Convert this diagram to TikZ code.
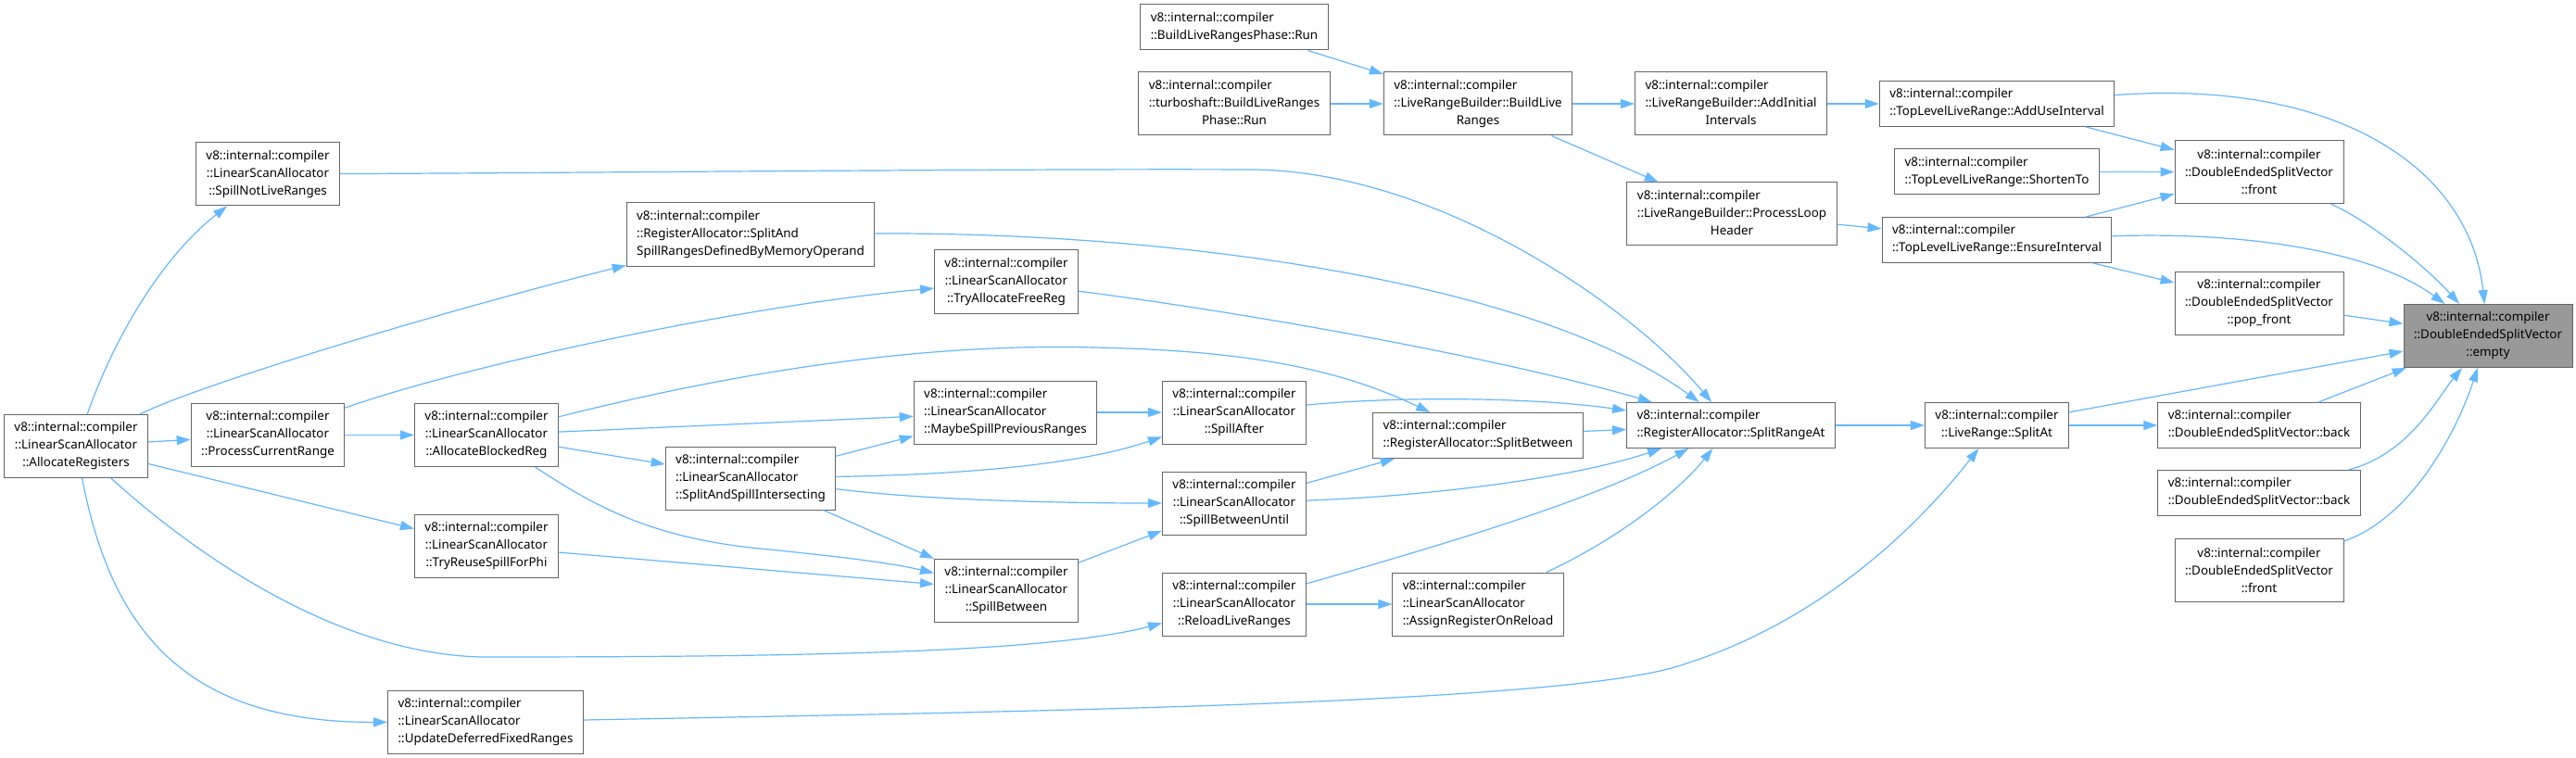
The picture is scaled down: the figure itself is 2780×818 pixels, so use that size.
\documentclass[tikz,border=0pt]{standalone}
\usepackage{fontspec}
\setmainfont{Noto Sans}
\usetikzlibrary{arrows.meta}
\definecolor{edgeblue}{HTML}{63B8FF}
\definecolor{nodegray}{HTML}{666666}
\definecolor{targetfill}{HTML}{999999}
\tikzset{
  nd/.style={draw=nodegray, line width=1pt, fill=white, inner xsep=11pt, inner ysep=3pt,
    font=\fontsize{13.4}{19}\selectfont, text=black},
  n3/.style={nd, minimum height=68pt},
  n2/.style={nd, minimum height=49pt},
  ed/.style={draw=edgeblue, line width=1.2pt, -{Triangle[length=15pt,width=10pt]}},
}
\newcommand{\mixlbl}[3]{\begin{tabular}{@{}l@{}}#1\\#2\\\multicolumn{1}{@{}c@{}}{#3}\end{tabular}}
\begin{document}
\begin{tikzpicture}[x=1pt,y=-1pt]
\useasboundingbox (0,0) rectangle (2780,818);
\fill[white] (0,0) rectangle (2780,818);

% nodes
\node[n3, align=center] (AR) at (82,481.5) {v8::internal::compiler\\::LinearScanAllocator\\::AllocateRegisters};
\node[n3, align=center] (SNLR) at (289,188) {v8::internal::compiler\\::LinearScanAllocator\\::SpillNotLiveRanges};
\node[n3, align=center] (PCR) at (289,469.5) {v8::internal::compiler\\::LinearScanAllocator\\::ProcessCurrentRange};
\node[n3, align=left] (UDFR) at (524,779) {v8::internal::compiler\\::LinearScanAllocator\\::UpdateDeferredFixedRanges};
\node[n3, align=center] (ABR) at (525,469.5) {v8::internal::compiler\\::LinearScanAllocator\\::AllocateBlockedReg};
\node[n3, align=center] (TRSP) at (525,589.5) {v8::internal::compiler\\::LinearScanAllocator\\::TryReuseSpillForPhi};
\node[n3, align=left] (SASR) at (810,253) {v8::internal::compiler\\::RegisterAllocator::SplitAnd\\SpillRangesDefinedByMemoryOperand};
\node[n3, align=left] (SASI) at (810,516) {v8::internal::compiler\\::LinearScanAllocator\\::SplitAndSpillIntersecting};
\node[n3, align=center] (TAFR) at (1086,304) {v8::internal::compiler\\::LinearScanAllocator\\::TryAllocateFreeReg};
\node[n3, align=left] (MSPR) at (1085,445) {v8::internal::compiler\\::LinearScanAllocator\\::MaybeSpillPreviousRanges};
\node[n3, align=center] (SB) at (1086,637) {v8::internal::compiler\\::LinearScanAllocator\\::SpillBetween};
\node[n3, align=center] (SA) at (1332,445) {v8::internal::compiler\\::LinearScanAllocator\\::SpillAfter};
\node[n3, align=center] (SBU) at (1332,543) {v8::internal::compiler\\::LinearScanAllocator\\::SpillBetweenUntil};
\node[n3, align=center] (RLR) at (1332,652) {v8::internal::compiler\\::LinearScanAllocator\\::ReloadLiveRanges};
\node[n2, align=left] (BLRP) at (1332,29.5) {v8::internal::compiler\\::BuildLiveRangesPhase::Run};
\node[n3] (TBLR) at (1332,112) {\mixlbl{v8::internal::compiler}{::turboshaft::BuildLiveRanges}{Phase::Run}};
\node[n2, align=left] (SBW) at (1595,470) {v8::internal::compiler\\::RegisterAllocator::SplitBetween};
\node[n3, align=left] (AROR) at (1595,652) {v8::internal::compiler\\::LinearScanAllocator\\::AssignRegisterOnReload};
\node[n3] (BLR) at (1595,112) {\mixlbl{v8::internal::compiler}{::LiveRangeBuilder::BuildLive}{Ranges}};
\node[n2, align=left] (SRA) at (1868,459) {v8::internal::compiler\\::RegisterAllocator::SplitRangeAt};
\node[n3] (AII) at (1868,112) {\mixlbl{v8::internal::compiler}{::LiveRangeBuilder::AddInitial}{Intervals}};
\node[n3] (PLH) at (1869,231) {\mixlbl{v8::internal::compiler}{::LiveRangeBuilder::ProcessLoop}{Header}};
\node[n2, align=left] (AUI) at (2155,112) {v8::internal::compiler\\::TopLevelLiveRange::AddUseInterval};
\node[n2, align=left] (ST) at (2155,185.5) {v8::internal::compiler\\::TopLevelLiveRange::ShortenTo};
\node[n2, align=left] (EI) at (2155,259) {v8::internal::compiler\\::TopLevelLiveRange::EnsureInterval};
\node[n2, align=center] (LSA) at (2155,459) {v8::internal::compiler\\::LiveRange::SplitAt};
\node[n3, align=center] (DF1) at (2438,185.5) {v8::internal::compiler\\::DoubleEndedSplitVector\\::front};
\node[n3, align=center] (PF) at (2438,327) {v8::internal::compiler\\::DoubleEndedSplitVector\\::pop\_front};
\node[n2, align=left] (DB1) at (2438,459) {v8::internal::compiler\\::DoubleEndedSplitVector::back};
\node[n2, align=left] (DB2) at (2438,532) {v8::internal::compiler\\::DoubleEndedSplitVector::back};
\node[n3, align=center] (DF2) at (2438,615) {v8::internal::compiler\\::DoubleEndedSplitVector\\::front};
\node[n3, align=center, fill=targetfill] (EMP) at (2685,362.5) {v8::internal::compiler\\::DoubleEndedSplitVector\\::empty};

% edges from AllocateRegisters
\draw[ed] (AR) .. controls (126,357) and (178,275) .. (SNLR);
\draw[ed] (AR) .. controls (215,415) and (480,335) .. (SASR);
\draw[ed] (AR) -- (PCR);
\draw[ed] (AR) -- (TRSP);
\draw[ed] (AR) .. controls (190,580) and (350,705) .. (520,709) .. controls (850,709) and (1130,705) .. (RLR);
\draw[ed] (AR) .. controls (120,680) and (200,780) .. (UDFR);

% ProcessCurrentRange
\draw[ed] (PCR) -- (ABR);
\draw[ed] (PCR) .. controls (500,395) and (800,330) .. (TAFR);

% SpillNotLiveRanges, SplitAndSpillRanges..., TryAllocateFreeReg
\draw[ed] (SNLR) .. controls (700,186) and (1100,182) .. (1350,183) .. controls (1550,184) and (1760,330) .. (SRA);
\draw[ed] (SASR) .. controls (1250,250) and (1650,300) .. (SRA);
\draw[ed] (TAFR) .. controls (1400,345) and (1650,395) .. (SRA);

% AllocateBlockedReg
\draw[ed] (ABR) .. controls (800,400) and (1000,370) .. (1180,375) .. controls (1350,378) and (1450,400) .. (SBW);
\draw[ed] (ABR) -- (MSPR);
\draw[ed] (ABR) -- (SASI);
\draw[ed] (ABR) .. controls (640,545) and (700,580) .. (820,592) .. controls (900,600) and (960,607) .. (SB);
\draw[ed] (TRSP) -- (SB);

% UpdateDeferredFixedRanges
\draw[ed] (UDFR) .. controls (1100,768) and (1650,760) .. (1800,722) .. controls (1950,680) and (2060,580) .. (LSA);

% SplitAndSpillIntersecting
\draw[ed] (SASI) -- (MSPR);
\draw[ed] (SASI) .. controls (1050,512) and (1170,500) .. (SA);
\draw[ed] (SASI) .. controls (1000,540) and (1150,543) .. (SBU);
\draw[ed] (SASI) -- (SB);
\draw[ed] (MSPR) -- (SA);
\draw[ed] (SB) -- (SBU);

% into SplitRangeAt
\draw[ed] (SA) .. controls (1500,428) and (1650,428) .. (SRA);
\draw[ed] (SBW) -- (SRA);
\draw[ed] (SBU) -- (SBW);
\draw[ed] (SBU) .. controls (1550,535) and (1700,515) .. (SRA);
\draw[ed] (RLR) -- (AROR);
\draw[ed] (RLR) .. controls (1550,590) and (1720,540) .. (SRA);
\draw[ed] (AROR) .. controls (1760,575) and (1820,520) .. (SRA);

% SplitRangeAt onwards
\draw[ed] (SRA) -- (LSA);
\draw[ed] (LSA) -- (DB1);
\draw[ed] (LSA) -- (EMP);
\draw[ed] (DB1) -- (EMP);
\draw[ed] (DB2) .. controls (2600,490) and (2630,430) .. (EMP);
\draw[ed] (DF2) .. controls (2600,560) and (2650,470) .. (EMP);
\draw[ed] (PF) -- (EMP);
\draw[ed] (EI) .. controls (2420,250) and (2560,270) .. (EMP);
\draw[ed] (DF1) .. controls (2560,240) and (2620,290) .. (EMP);
\draw[ed] (AUI) .. controls (2520,85) and (2665,180) .. (EMP);

% top cluster
\draw[ed] (AUI) -- (DF1);
\draw[ed] (ST) -- (DF1);
\draw[ed] (EI) -- (DF1);
\draw[ed] (EI) -- (PF);
\draw[ed] (AII) -- (AUI);
\draw[ed] (PLH) -- (EI);
\draw[ed] (BLR) -- (AII);
\draw[ed] (BLR) -- (PLH);
\draw[ed] (BLRP) -- (BLR);
\draw[ed] (TBLR) -- (BLR);
\end{tikzpicture}
\end{document}
